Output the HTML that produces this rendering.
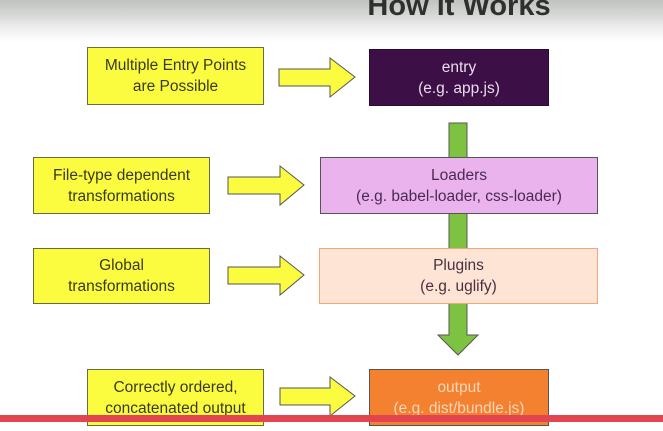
<!DOCTYPE html>
<html><head><style>
body{margin:0;width:663px;height:431px;overflow:hidden;position:relative;background:linear-gradient(#bfc3bf 0px,#d4d6d4 14px,#eeeeee 28px,#fff 42px,#fff);font-family:"Liberation Sans",sans-serif}
.b{position:absolute;box-sizing:border-box;display:flex;align-items:center;justify-content:center;text-align:center;font-size:15.5px;line-height:21px}
.y{background:#fbfb40;border:1.5px solid #6b6b40;color:#3a3a20}
.t{position:absolute;left:360px;top:-10px;width:198px;text-align:center;font-weight:bold;font-size:29px;color:#2e302e;letter-spacing:0px}
svg{position:absolute;left:0;top:0}
</style></head><body>
<div class="t">How it Works</div>
<svg width="663" height="431">
<polygon points="449,123 467,123 467,335 478,335 458,355 438,335 449,335" fill="#7ec242" stroke="#555" stroke-width="1"/>
<g fill="#fbfb40" stroke="#555" stroke-width="1">
<polygon points="279,69 330,69 330,58 355,77 330,97 330,86 279,86"/>
<polygon points="228,177 280,177 280,166 304,185 280,205 280,194 228,194"/>
<polygon points="228,267 280,267 280,256 304,275 280,295 280,284 228,284"/>
<polygon points="280,388 330,388 330,377 355,396 330,416 330,405 280,405"/>
</g>
</svg>
<div class="b y" style="left:87px;top:47px;width:177px;height:58px">Multiple Entry Points<br>are Possible</div>
<div class="b y" style="left:33px;top:157px;width:177px;height:57px">File-type dependent<br>transformations</div>
<div class="b y" style="left:33px;top:248px;width:177px;height:56px">Global<br>transformations</div>
<div class="b y" style="left:87px;top:369px;width:177px;height:57px">Correctly ordered,<br>concatenated output</div>
<div class="b" style="left:369px;top:49px;width:180px;height:57px;background:#3d0f47;color:#e8dcea;border:1px solid #2a0a30">entry<br>(e.g. app.js)</div>
<div class="b" style="left:320px;top:157px;width:278px;height:57px;background:#eab3ee;color:#4a2a50;border:1.5px solid #555">Loaders<br>(e.g. babel-loader, css-loader)</div>
<div class="b" style="left:319px;top:248px;width:279px;height:56px;background:#fde4d4;color:#4a3040;border:1.5px solid #f0a878">Plugins<br>(e.g. uglify)</div>
<div class="b" style="left:369px;top:369px;width:180px;height:57px;background:#f38130;color:#fbd6b8;border:1px solid #555">output<br>(e.g. dist/bundle.js)</div>
<div style="position:absolute;left:0;top:415px;width:663px;height:7px;background:#e2454f"></div>
</body></html>
